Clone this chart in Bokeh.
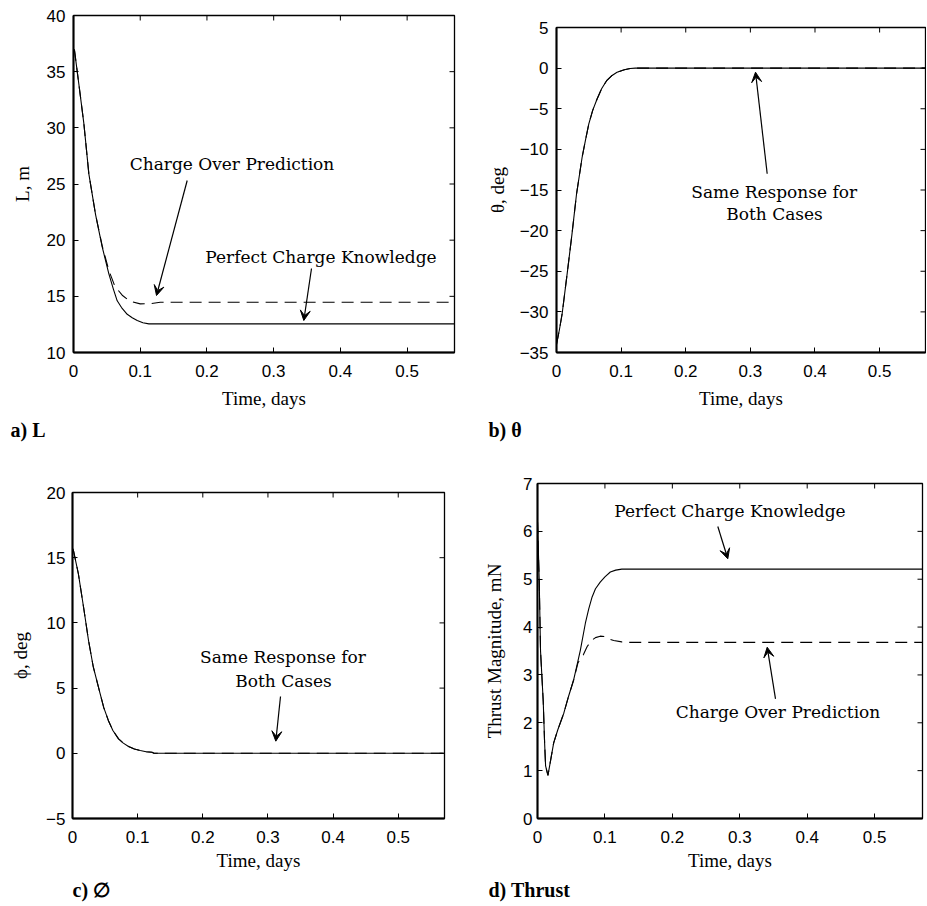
import math
from bokeh.plotting import figure
from bokeh.models import Range1d, FixedTicker, Label, Arrow, VeeHead, CustomJSTickFormatter, Title
from bokeh.layouts import column, row
from bokeh.embed import file_html
from bokeh.resources import INLINE

# ---------------- data ----------------
T_END = 0.571
x_ticks = [0, 0.1, 0.2, 0.3, 0.4, 0.5]

# a) L, m
a_t_perfect = [0, 0.0015, 0.008, 0.0155, 0.023, 0.033, 0.043, 0.053, 0.060, 0.0655, 0.072,
               0.0805, 0.088, 0.0955, 0.104, 0.113, T_END]
a_L_perfect = [37.0, 36.9, 33.9, 30.4, 25.9, 22.3, 19.4, 17.0, 15.6, 14.6, 14.0,
               13.4, 13.1, 12.85, 12.65, 12.55, 12.55]
a_t_over = [0, 0.0015, 0.008, 0.0155, 0.023, 0.033, 0.043, 0.053, 0.062, 0.073, 0.085,
            0.1, 0.115, 0.13, T_END]
a_L_over = [37.0, 36.9, 33.9, 30.4, 25.9, 22.3, 19.5, 17.3, 15.9, 15.1, 14.55,
            14.33, 14.35, 14.47, 14.47]
a_yticks = [10, 15, 20, 25, 30, 35, 40]

# b) theta, deg (same response for both cases)
b_t = [0, 0.0045, 0.0088, 0.0165, 0.024, 0.031, 0.0396, 0.045, 0.050, 0.056, 0.0628, 0.070,
       0.078, 0.086, 0.0937, 0.105, 0.114, 0.122, T_END]
b_theta_perfect = [-34.0, -32.2, -30.2, -25.3, -20.4, -15.5, -11.0, -8.8, -6.85, -5.2, -3.8, -2.5,
                   -1.5, -0.9, -0.5, -0.2, -0.05, 0.0, 0.0]
b_theta_over = [-34.0, -32.2, -30.2, -25.3, -20.4, -15.5, -11.0, -8.8, -6.85, -5.2, -3.8, -2.5,
                -1.5, -0.9, -0.5, -0.2, -0.05, 0.0, 0.0]
b_yticks = [-35, -30, -25, -20, -15, -10, -5, 0, 5]

# c) phi, deg (same response for both cases)
c_t = [0, 0.0015, 0.009, 0.017, 0.0246, 0.032, 0.0425, 0.048, 0.055, 0.062, 0.0707, 0.078,
       0.086, 0.095, 0.104, 0.113, 0.122, 0.125, T_END]
c_phi_perfect = [15.7, 15.55, 13.77, 11.2, 8.65, 6.6, 4.56, 3.5, 2.52, 1.75, 1.11, 0.78,
                 0.52, 0.33, 0.21, 0.12, 0.08, 0.0, 0.0]
c_phi_over = [15.7, 15.55, 13.77, 11.2, 8.65, 6.6, 4.56, 3.5, 2.52, 1.75, 1.11, 0.78,
              0.52, 0.33, 0.21, 0.12, 0.08, 0.0, 0.0]
c_yticks = [-5, 0, 5, 10, 15, 20]

# d) Thrust magnitude, mN
d_t_perfect = [0, 0.0025, 0.0045, 0.0085, 0.0105, 0.012, 0.0155, 0.024, 0.030, 0.039, 0.046,
               0.0537, 0.0585, 0.0636, 0.071, 0.076, 0.081, 0.086, 0.093, 0.100, 0.108, 0.116,
               0.125, T_END]
d_T_perfect = [6.2, 5.0, 3.5, 2.45, 1.6, 1.1, 0.9, 1.58, 1.85, 2.2, 2.55,
               2.9, 3.2, 3.52, 4.08, 4.38, 4.63, 4.8, 4.94, 5.05, 5.15, 5.19,
               5.21, 5.21]
d_t_over = [0, 0.0025, 0.0045, 0.0085, 0.0105, 0.012, 0.0155, 0.024, 0.030, 0.039, 0.046,
            0.0537, 0.060, 0.064, 0.068, 0.0735, 0.080, 0.086, 0.093, 0.100, 0.106, 0.113,
            0.125, 0.1376, T_END]
d_T_over = [6.2, 5.0, 3.5, 2.45, 1.6, 1.1, 0.9, 1.58, 1.85, 2.2, 2.55,
            2.9, 3.25, 3.35, 3.42, 3.59, 3.72, 3.78, 3.81, 3.8, 3.75, 3.72,
            3.69, 3.68, 3.68]
d_yticks = [0, 1, 2, 3, 4, 5, 6, 7]

# ---------------- styling ----------------
SANS = "Liberation Sans"
SERIF = "Liberation Serif"
ANN = "DejaVu Serif"
TICK_SIZE = "17px"
ALAB_SIZE = "19px"
ANN_SIZE = "17px"
CAP_SIZE = "20px"

fmt_js = "return (tick < 0 ? '\\u2212' + (-tick) : '' + tick);"


def make_panel(origin, size, frame, yr, yticks, ylabel, ylab_standoff, ytick_standoff,
               caption, cap_offset, xlab_standoff=8, cap_standoff=10):
    ox, oy = origin
    pw, ph = size
    fl, ft, fr, fb = frame
    p = figure(width=pw, height=ph, x_range=Range1d(0, T_END), y_range=Range1d(*yr),
               min_border_left=fl - ox, min_border_right=ox + pw - fr,
               min_border_top=ft - oy, min_border_bottom=oy + ph - fb,
               output_backend="svg", toolbar_location=None,
               x_axis_label="Time, days", y_axis_label=ylabel)
    p.grid.visible = False
    p.outline_line_color = "black"
    p.outline_line_width = 1.3
    p.background_fill_color = "white"
    p.border_fill_color = "white"

    p.xaxis.ticker = FixedTicker(ticks=x_ticks)
    p.yaxis.ticker = FixedTicker(ticks=yticks)
    for ax in (p.xaxis[0], p.yaxis[0]):
        ax.formatter = CustomJSTickFormatter(code=fmt_js)
        ax.major_tick_in = 5
        ax.major_tick_out = 0
        ax.minor_tick_line_color = None
        ax.axis_line_width = 2
        ax.axis_line_color = "black"
        ax.major_tick_line_color = "black"
        ax.major_label_text_font = SANS
        ax.major_label_text_font_size = TICK_SIZE
        ax.major_label_text_color = "black"
        ax.axis_label_text_font = SERIF
        ax.axis_label_text_font_style = "normal"
        ax.axis_label_text_font_size = ALAB_SIZE
        ax.axis_label_text_color = "black"
    p.xaxis.major_label_standoff = 12
    p.xaxis.axis_label_standoff = xlab_standoff
    p.yaxis.major_label_standoff = ytick_standoff
    p.yaxis.axis_label_standoff = ylab_standoff

    # mirrored inward ticks on the top and right frame edges (clipped to the frame)
    p.scatter(x=x_ticks, y=[yr[1]] * len(x_ticks), marker="dash", angle=math.pi / 2,
              size=10, line_color="black", line_width=1)
    p.scatter(x=[T_END] * len(yticks), y=yticks, marker="dash",
              size=10, line_color="black", line_width=1)

    p.add_layout(Title(text=caption, align="left", offset=cap_offset, standoff=cap_standoff,
                       text_font=SERIF, text_font_size=CAP_SIZE, text_font_style="bold",
                       text_color="black"),
                 "below")

    def to_data(sx, sy):
        x = (sx - fl) / (fr - fl) * T_END
        y = yr[0] + (fb - sy) / (fb - ft) * (yr[1] - yr[0])
        return x, y

    return p, to_data


def add_text(p, to_data, sx, sy, text):
    x, y = to_data(sx, sy)
    p.add_layout(Label(x=x, y=y, text=text, text_font=ANN, text_font_size=ANN_SIZE,
                       text_align="center", text_baseline="middle", text_color="black"))


def add_arrow(p, to_data, s0, s1):
    x0, y0 = to_data(*s0)
    x1, y1 = to_data(*s1)
    p.add_layout(Arrow(end=VeeHead(size=10, fill_color="black", line_color="black", line_width=1),
                       x_start=x0, y_start=y0, x_end=x1, y_end=y1,
                       line_color="black", line_width=1.2))


SOLID = dict(line_color="black", line_width=1.1)
DASHED = dict(line_color="black", line_width=1.1, line_dash="12 7")

# ---------------- panel a ----------------
pa, da = make_panel((0, 0), (460, 450), (73, 15, 454, 352), (10, 40), a_yticks, "L, m", 11, 8,
                    "a) L", -63)
pa.line(a_t_perfect, a_L_perfect, **SOLID)
pa.line(a_t_over, a_L_over, **DASHED)
add_text(pa, da, 231.5, 163, "Charge Over Prediction")
add_text(pa, da, 320.5, 256, "Perfect Charge Knowledge")
add_arrow(pa, da, (186.7, 180), (156, 295))
add_arrow(pa, da, (311, 268), (303.3, 320))

# ---------------- panel b ----------------
pb, db = make_panel((460, 0), (466, 450), (556, 27, 925, 352), (-35, 5), b_yticks, "θ, deg", 9, 8,
                    "b) θ", -68)
pb.line(b_t, b_theta_perfect, **SOLID)
pb.line(b_t, b_theta_over, **DASHED)
add_text(pb, db, 773.7, 191, "Same Response for")
add_text(pb, db, 774, 213.3, "Both Cases")
add_arrow(pb, db, (766.7, 173.3), (755, 71.7))

# ---------------- panel c ----------------
pc, dc = make_panel((0, 450), (460, 456), (72, 492, 444, 818), (-5, 20), c_yticks, "ϕ, deg", 12, 7,
                    "c) ∅", 0, xlab_standoff=4, cap_standoff=6)
pc.line(c_t, c_phi_perfect, **SOLID)
pc.line(c_t, c_phi_over, **DASHED)
add_text(pc, dc, 282.5, 656.7, "Same Response for")
add_text(pc, dc, 283, 680, "Both Cases")
add_arrow(pc, dc, (280, 696), (275.3, 740.7))

# ---------------- panel d ----------------
pd_, dd = make_panel((460, 450), (466, 456), (537, 483, 922, 818), (0, 7), d_yticks,
                     "Thrust Magnitude, mN", 15, 5, "d) Thrust", -49,
                     xlab_standoff=4, cap_standoff=6)
pd_.line(d_t_perfect, d_T_perfect, **SOLID)
pd_.line(d_t_over, d_T_over, **DASHED)
add_text(pd_, dd, 729.5, 510, "Perfect Charge Knowledge")
add_arrow(pd_, dd, (717.3, 526), (727.3, 558.3))
add_text(pd_, dd, 777.5, 711.7, "Charge Over Prediction")
add_arrow(pd_, dd, (775, 698.3), (766.7, 646.7))

# each plot wrapped in its own column so the frames are not force-aligned across a row
layout = column(row(column(pa), column(pb)), row(column(pc), column(pd_)))
open("out.html", "w").write(file_html(layout, INLINE))
